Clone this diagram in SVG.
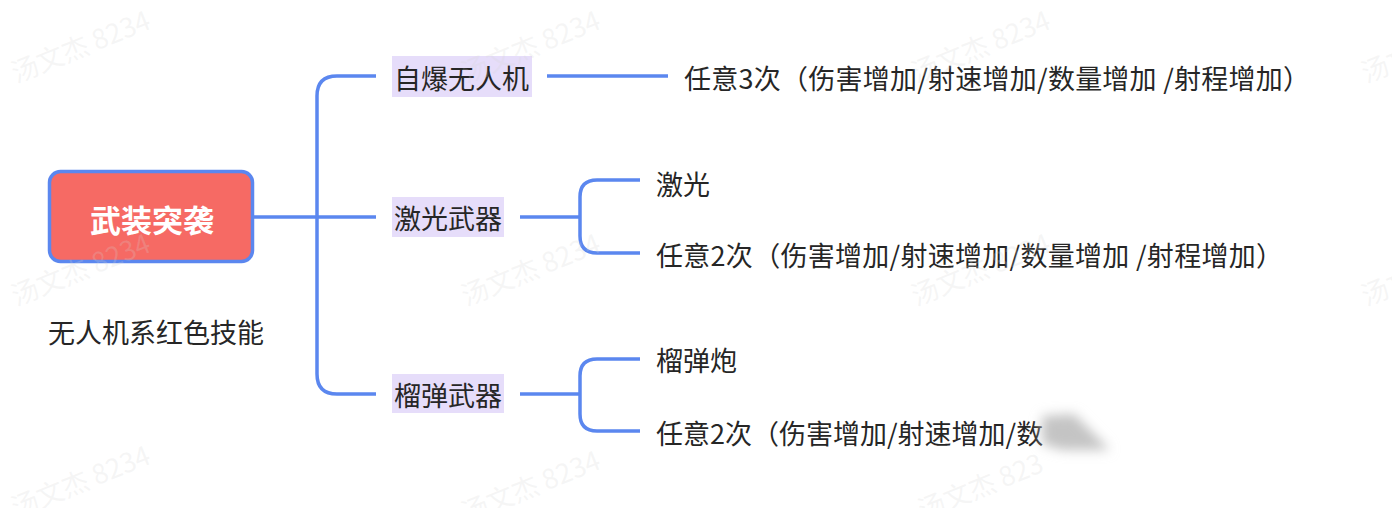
<svg xmlns="http://www.w3.org/2000/svg" width="1392" height="508" viewBox="0 0 1392 508">
<defs>
<style>
.t{font-family:"Noto Sans CJK SC","Noto Sans",sans-serif;font-size:27px;fill:#262626;dominant-baseline:central}
.hl{fill:#e6ddfa}
.c{fill:none;stroke:#5b87ef;stroke-width:3.5;stroke-linecap:butt}
.wm{font-family:"Noto Sans CJK SC","Noto Sans",sans-serif;font-size:27px;fill:#d4d4d4;fill-opacity:0.22;text-anchor:middle;dominant-baseline:central}
</style>
<filter id="blur" x="-50%" y="-50%" width="200%" height="200%"><feGaussianBlur stdDeviation="6"/></filter>
</defs>
<rect width="1392" height="508" fill="#ffffff"/>
<g id="connectors">
<path class="c" d="M253 217 H376"/>
<path class="c" d="M376 76 H337 Q317 76 317 96 V374 Q317 394 337 394 H376"/>
<path class="c" d="M547 76 H668"/>
<path class="c" d="M520 217 H580"/>
<path class="c" d="M640 180 H597 Q580 180 580 197 V236 Q580 253 597 253 H640"/>
<path class="c" d="M520 394 H580"/>
<path class="c" d="M640 359 H597 Q580 359 580 376 V414 Q580 431 597 431 H640"/>
</g>
<g id="root">
<rect x="49.5" y="171.5" width="203" height="90" rx="11" fill="#f66a64" stroke="#5b87ef" stroke-width="3.5"/>
<text x="152" y="218" style="font-family:'Noto Sans CJK SC','Noto Sans',sans-serif;font-size:31px;font-weight:bold;fill:#ffffff;text-anchor:middle;dominant-baseline:central">武装突袭</text>
</g>
<g id="note">
<text class="t" x="48" y="331">无人机系红色技能</text>
</g>
<g id="n-zibao">
<rect class="hl" x="392" y="56" width="140" height="41"/>
<text class="t" x="394" y="77">自爆无人机</text>
</g>
<g id="n-zibao-leaf">
<text class="t" x="684" y="77" textLength="626" lengthAdjust="spacing">任意3次（伤害增加/射速增加/数量增加 /射程增加）</text>
</g>
<g id="n-jiguang">
<rect class="hl" x="392" y="197" width="112" height="40"/>
<text class="t" x="394" y="217">激光武器</text>
</g>
<g id="n-jiguang-leaf1">
<text class="t" x="656" y="183">激光</text>
</g>
<g id="n-jiguang-leaf2">
<text class="t" x="656" y="254" textLength="627" lengthAdjust="spacing">任意2次（伤害增加/射速增加/数量增加 /射程增加）</text>
</g>
<g id="n-liudan">
<rect class="hl" x="392" y="374" width="112" height="39"/>
<text class="t" x="394" y="394">榴弹武器</text>
</g>
<g id="n-liudan-leaf1">
<text class="t" x="656" y="359">榴弹炮</text>
</g>
<g id="n-liudan-leaf2">
<text class="t" x="656" y="432">任意2次（伤害增加/射速增加/数</text>
<rect x="1046" y="412" width="80" height="44" fill="#ffffff"/>
<path d="M1042 416 L1074 414 L1110 450 L1062 450 L1042 444 Z" fill="#c4c4c4" filter="url(#blur)"/>
</g>
<g id="watermarks">
<text class="wm" transform="translate(80 45) rotate(-22)">汤文杰 8234</text>
<text class="wm" transform="translate(530 45) rotate(-22)">汤文杰 8234</text>
<text class="wm" transform="translate(980 45) rotate(-22)">汤文杰 8234</text>
<text class="wm" transform="translate(1430 45) rotate(-22)">汤文杰 8234</text>
<text class="wm" transform="translate(80 268) rotate(-22)">汤文杰 8234</text>
<text class="wm" transform="translate(530 268) rotate(-22)">汤文杰 8234</text>
<text class="wm" transform="translate(980 268) rotate(-22)">汤文杰 8234</text>
<text class="wm" transform="translate(1430 268) rotate(-22)">汤文杰 8234</text>
<text class="wm" transform="translate(80 480) rotate(-22)">汤文杰 8234</text>
<text class="wm" transform="translate(530 485) rotate(-22)">汤文杰 8234</text>
<text class="wm" transform="translate(980 485) rotate(-22)">汤文杰 823</text>
</g>
</svg>
